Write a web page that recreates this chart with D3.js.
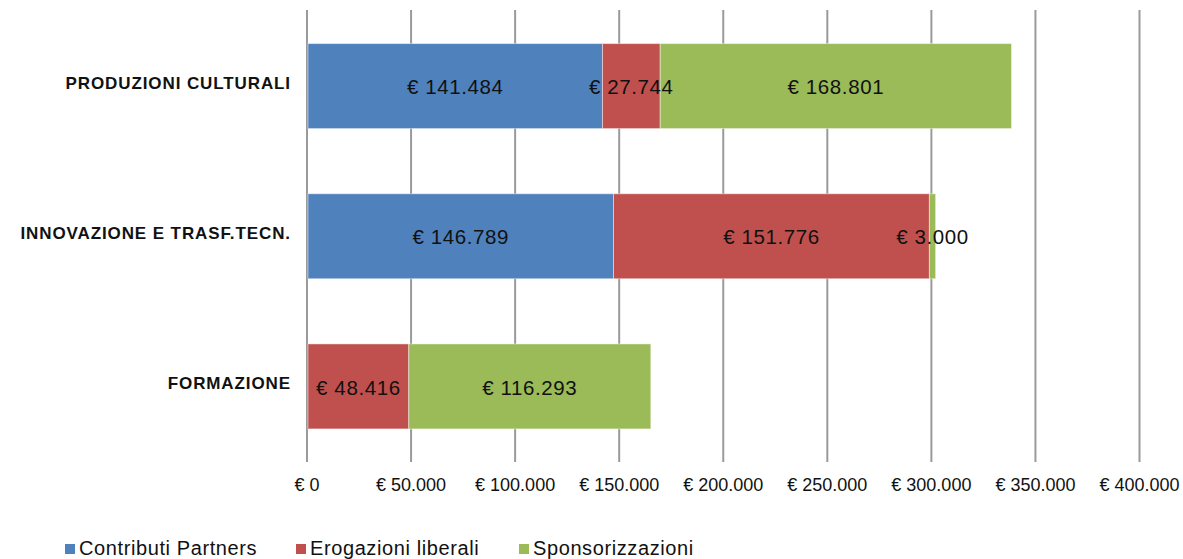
<!DOCTYPE html>
<html>
<head>
<meta charset="utf-8">
<script src="https://cdn.jsdelivr.net/npm/d3@7"></script>
<style>
    body { margin: 0; background: #fff; }
    svg { display: block; font-family: "Liberation Sans", Arial, sans-serif; }
</style>
</head>
<body>
<svg id="chart" width="1183" height="559"></svg>
<script>
// --- Data ---
const categories = ['PRODUZIONI CULTURALI', 'INNOVAZIONE E TRASF.TECN.', 'FORMAZIONE'];
const seriesNames = ['Contributi Partners', 'Erogazioni liberali', 'Sponsorizzazioni'];
const contributiPartners = [141484, 146789, 0];
const erogazioniLiberali = [27744, 151776, 48416];
const sponsorizzazioni = [168801, 3000, 116293];
const xTicks = [0, 50000, 100000, 150000, 200000, 250000, 300000, 350000, 400000];
const colors = ['#4f81bd', '#c0504d', '#9bbb59'];

const rows = categories.map((c, i) => ({
    category: c,
    s0: contributiPartners[i],
    s1: erogazioniLiberali[i],
    s2: sponsorizzazioni[i]
}));
const keys = ['s0', 's1', 's2'];

const svg = d3.select('#chart');

// Scales
const x = d3.scaleLinear().domain([0, 400000]).range([307, 1139.5]);
const y = d3.scaleBand().domain(categories).range([11, 461.5])
    .paddingInner(0.434).paddingOuter(0.217);

// Italian thousands separator
const fmt = d3.formatLocale({ decimal: ',', thousands: '.', grouping: [3], currency: ['€ ', ''] }).format(',.0f');
const euro = v => '€ ' + fmt(v);

// Grid lines
svg.append('g').selectAll('line')
    .data(xTicks)
    .join('line')
    .attr('x1', d => x(d)).attr('x2', d => x(d))
    .attr('y1', 10).attr('y2', 462)
    .attr('stroke', '#9a9a9a')
    .attr('stroke-width', 2);

// Tick labels
svg.append('g').selectAll('text')
    .data(xTicks)
    .join('text')
    .attr('x', d => x(d))
    .attr('y', 491)
    .attr('text-anchor', 'middle')
    .attr('font-size', 18)
    .attr('fill', '#111')
    .text(d => euro(d));

// Stacked bars
const stacked = d3.stack().keys(keys)(rows);
const segments = stacked.flatMap((layer, i) =>
    layer.filter(p => p[1] - p[0] > 0).map(p => ({ p, i })));

svg.append('g').selectAll('rect')
    .data(segments)
    .join('rect')
    .attr('x', d => x(d.p[0]) + 1)
    .attr('y', d => y(d.p.data.category))
    .attr('width', d => x(d.p[1]) - x(d.p[0]))
    .attr('height', y.bandwidth())
    .attr('fill', d => colors[d.i])
    .attr('stroke', '#ffffff')
    .attr('stroke-opacity', 0.45)
    .attr('stroke-width', 1);

// Value labels (on top of every bar)
svg.append('g').selectAll('text')
    .data(segments)
    .join('text')
    .attr('x', d => (x(d.p[0]) + x(d.p[1])) / 2 + 1)
    .attr('y', d => y(d.p.data.category) + y.bandwidth() / 2 + 1)
    .attr('dy', '0.35em')
    .attr('text-anchor', 'middle')
    .attr('font-size', 20.5)
    .attr('letter-spacing', '0.6px')
    .attr('fill', '#111')
    .text(d => euro(d.p[1] - d.p[0]));

// Category labels
svg.append('g').selectAll('text')
    .data(categories)
    .join('text')
    .attr('x', 291)
    .attr('y', d => y(d) + y.bandwidth() / 2 - 3)
    .attr('dy', '0.35em')
    .attr('text-anchor', 'end')
    .attr('font-size', 17)
    .attr('font-weight', 'bold')
    .attr('letter-spacing', '0.9px')
    .attr('fill', '#111')
    .text(d => d);

// Legend
const legendX = [65, 296, 519];
const legend = svg.append('g').selectAll('g')
    .data(seriesNames)
    .join('g')
    .attr('transform', (d, i) => `translate(${legendX[i]},544)`);

legend.append('rect')
    .attr('width', 10).attr('height', 10)
    .attr('fill', (d, i) => colors[i]);

legend.append('text')
    .attr('x', 14)
    .attr('y', 11)
    .attr('font-size', 20)
    .attr('letter-spacing', '0.6px')
    .attr('fill', '#111')
    .text(d => d);
</script>
</body>
</html>
